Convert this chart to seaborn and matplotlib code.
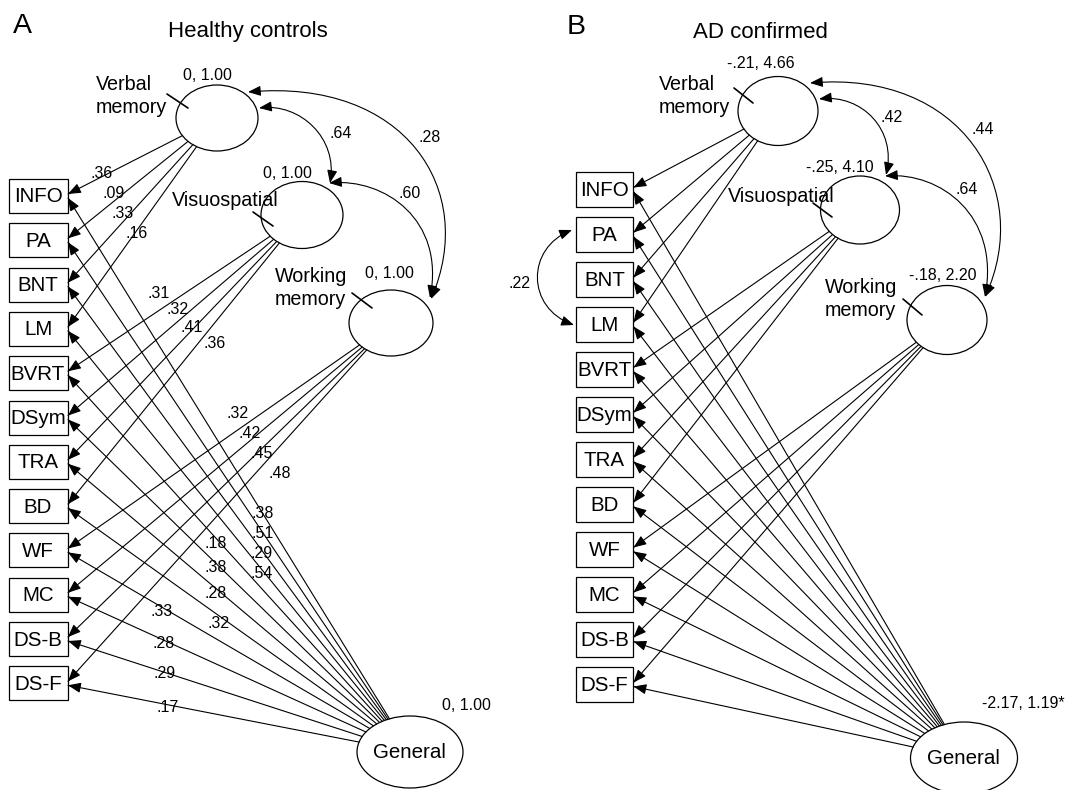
import numpy as np
import pandas as pd
import matplotlib.pyplot as plt
import seaborn as sns
from matplotlib.patches import Ellipse, Rectangle, FancyArrowPatch
from matplotlib.path import Path

# observed tests and the specific factor each one loads on
tests = ['INFO', 'PA', 'BNT', 'LM', 'BVRT', 'DSym', 'TRA', 'BD', 'WF', 'MC', 'DS-B', 'DS-F']
test_factor = ['verbal'] * 4 + ['visuo'] * 4 + ['working'] * 4
factor_names = {'verbal': 'Verbal\nmemory', 'visuo': 'Visuospatial',
                'working': 'Working\nmemory', 'general': 'General'}

# A - healthy controls
hc_specific = [.36, .09, .33, .16, .31, .32, .41, .36, .32, .42, .45, .48]
hc_general = [.38, .51, .29, .54, .18, .38, .28, .32, .33, .28, .29, .17]
hc_cov = [.64, .28, .60]  # verbal-visuo, verbal-working, visuo-working
hc_moments = ['0, 1.00', '0, 1.00', '0, 1.00', '0, 1.00']

# B - AD confirmed
ad_cov = [.42, .44, .64]
ad_pa_lm = .22
ad_moments = ['-.21, 4.66', '-.25, 4.10', '-.18, 2.20', '-2.17, 1.19*']

LAYOUT = {
    'A': dict(
        letter='A', letter_xy=(22, 26), title='Healthy controls', title_xy=(248, 31),
        box_x=8.5, box_w=59, box_top=179, box_h=34, pitch=44.3,
        ell={'verbal': (217, 118, 82, 66), 'visuo': (302, 215, 82, 67),
             'working': (391, 323, 84, 66), 'general': (410, 752, 106, 72)},
        names={'verbal': (96, 96), 'visuo': (172, 201), 'working': (275, 288)},
        ticks={'verbal': [(167, 94), (188, 108)], 'visuo': [(253, 212), (273, 226)],
               'working': [(352, 293), (372, 308)]},
        moments=[(207, 75), (287, 174), (389, 273), (466, 706)],
        arcs=[[(259, 108), (300, 103), (338, 138), (330, 183)],
              [(248, 92), (405, 78), (478, 190), (431, 299)],
              [(329, 183), (385, 178), (445, 220), (430, 298)]],
        cov_xy=[(341, 134), (430, 138), (410, 194)],
        spec_xy=[(102, 173), (114, 193), (123, 214), (137, 234), (159, 293), (178, 310),
                 (192, 327), (215, 344), (238, 414), (250, 433), (262, 453), (280, 473)],
        gen_xy=[(263, 513), (263, 533), (262, 553), (262, 573), (216, 543), (216, 568),
                (216, 593), (219, 623), (162, 611), (164, 643), (165, 673), (168, 708)],
    ),
    'B': dict(
        letter='B', letter_xy=(576, 27), title='AD confirmed', title_xy=(760, 33),
        box_x=576, box_w=57, box_top=172, box_h=35, pitch=45,
        ell={'verbal': (778, 111, 80, 69), 'visuo': (860, 210, 79, 68),
             'working': (947, 320, 80, 69), 'general': (964, 758, 107, 72)},
        names={'verbal': (659, 96), 'visuo': (728, 197), 'working': (825, 299)},
        ticks={'verbal': [(734, 88), (753, 103)], 'visuo': [(813, 203), (832, 217)],
               'working': [(903, 299), (922, 315)]},
        moments=[(761, 63), (840, 167), (943, 275), (1023, 703)],
        arcs=[[(819, 99), (862, 94), (897, 130), (886, 175)],
              [(810, 83), (962, 70), (1034, 190), (985, 297)],
              [(885, 176), (940, 172), (1000, 215), (985, 297)]],
        cov_xy=[(892, 118), (983, 129), (967, 189)],
        pa_lm_arc=[(572, 230), (526, 248), (526, 308), (574, 325)],
        pa_lm_xy=(520, 283),
    ),
}

HEAD = '-|>,head_length=0.55,head_width=0.22'
LW = 0.8
INK = '#000000'


def fmt(v):
    return f'{v:.2f}'.replace('0.', '.', 1)


def edge_point(ell, target):
    cx, cy, w, h = ell
    dx, dy = target[0] - cx, target[1] - cy
    t = 1 / np.hypot(dx / (w / 2), dy / (h / 2))
    return cx + dx * t, cy + dy * t


def head(ax, tip, frm):
    d = np.array(tip, float) - np.array(frm, float)
    d /= np.hypot(*d)
    ax.annotate('', xy=tip, xytext=tuple(np.array(tip) - d * 10),
                arrowprops=dict(arrowstyle=HEAD, mutation_scale=14, color=INK,
                                lw=LW, shrinkA=0, shrinkB=0))


def arc(ax, pts):
    p = Path(pts, [Path.MOVETO, Path.CURVE4, Path.CURVE4, Path.CURVE4])
    ax.add_patch(FancyArrowPatch(path=p, arrowstyle='<|-|>,head_length=0.55,head_width=0.22',
                                 mutation_scale=14, lw=LW, color=INK))


def draw_panel(ax, lay, moments, covs, specific=None, general=None):
    box_cy = [lay['box_top'] + lay['box_h'] / 2 + i * lay['pitch'] for i in range(len(tests))]
    right = lay['box_x'] + lay['box_w']

    # loading paths: specific factor and general factor -> each test
    rows = []
    tips = []
    for i, (name, fac) in enumerate(zip(tests, test_factor)):
        for src, off in ((fac, -2), ('general', 2)):
            tip = (right + 0.5, box_cy[i] + off)
            start = edge_point(lay['ell'][src], tip)
            rows.append({'x': start[0], 'y': start[1], 'edge': f'{src}-{name}'})
            rows.append({'x': tip[0], 'y': tip[1], 'edge': f'{src}-{name}'})
            tips.append((tip, start))
    seg = pd.DataFrame(rows)
    sns.lineplot(data=seg, x='x', y='y', units='edge', estimator=None, sort=False,
                 color=INK, lw=LW, ax=ax, legend=False)
    for tip, start in tips:
        head(ax, tip, start)

    for i, name in enumerate(tests):
        ax.add_patch(Rectangle((lay['box_x'], box_cy[i] - lay['box_h'] / 2), lay['box_w'],
                               lay['box_h'], fill=False, ec=INK, lw=0.9))
        ax.text(lay['box_x'] + lay['box_w'] / 2, box_cy[i] + 1, name, ha='center',
                va='center', fontsize=14.8)

    for key, (cx, cy, w, h) in lay['ell'].items():
        ax.add_patch(Ellipse((cx, cy), w, h, fill=False, ec=INK, lw=0.9))
    for key, (x, y) in lay['names'].items():
        ax.text(x, y, factor_names[key], ha='left', va='center', fontsize=14.2,
                linespacing=1.3)
    gx, gy = lay['ell']['general'][:2]
    ax.text(gx - 1, gy, factor_names['general'], ha='center', va='center', fontsize=14.8)
    for key, seg_pts in lay['ticks'].items():
        (x0, y0), (x1, y1) = seg_pts
        ax.plot([x0, x1], [y0, y1], color=INK, lw=1.2)

    for txt, xy in zip(moments, lay['moments']):
        ax.text(*xy, txt, ha='center', va='center', fontsize=11.5)

    for pts in lay['arcs']:
        arc(ax, pts)
    for v, xy in zip(covs, lay['cov_xy']):
        ax.text(*xy, fmt(v), ha='center', va='center', fontsize=11.5)

    if specific is not None:
        for v, xy in zip(specific, lay['spec_xy']):
            ax.text(*xy, fmt(v), ha='center', va='center', fontsize=11.5)
        for v, xy in zip(general, lay['gen_xy']):
            ax.text(*xy, fmt(v), ha='center', va='center', fontsize=11.5)

    ax.text(*lay['letter_xy'], lay['letter'], ha='center', va='center', fontsize=20.5)
    ax.text(*lay['title_xy'], lay['title'], ha='center', va='center', fontsize=16)


sns.set_theme(style='white')
plt.rcParams['font.family'] = ['Liberation Sans', 'DejaVu Sans']
plt.rcParams['text.color'] = 'black'

fig = plt.figure(figsize=(10.66, 7.9), dpi=100)
ax = fig.add_axes([0, 0, 1, 1])

draw_panel(ax, LAYOUT['A'], hc_moments, hc_cov, hc_specific, hc_general)
draw_panel(ax, LAYOUT['B'], ad_moments, ad_cov)

# residual covariance PA <-> LM in the AD group
arc(ax, LAYOUT['B']['pa_lm_arc'])
ax.text(*LAYOUT['B']['pa_lm_xy'], fmt(ad_pa_lm), ha='center', va='center', fontsize=11.5)

ax.set_xlim(0, 1066)
ax.set_ylim(790, 0)
ax.axis('off')
fig.savefig('out.png', dpi=100, facecolor='white')
